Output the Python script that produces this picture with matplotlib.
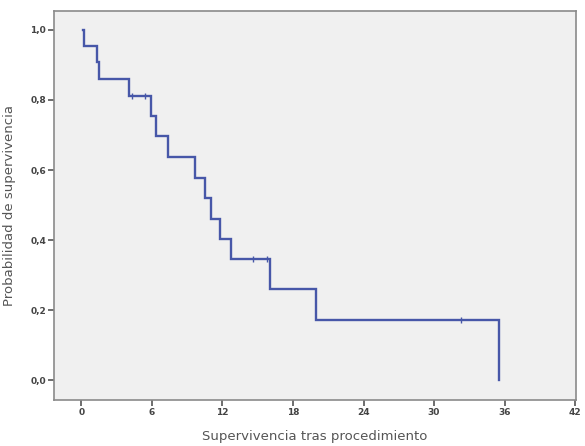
import matplotlib
matplotlib.use("Agg")
import matplotlib.pyplot as plt
from matplotlib.ticker import FuncFormatter

# Kaplan-Meier curve (time in months, survival)
event_times = [0.0, 0.25, 1.35, 1.5, 4.05, 5.93, 6.37, 7.4, 9.7, 10.55, 11.0,
               11.78, 12.76, 16.08, 20.0, 35.5]
survival = [1.0, 0.955, 0.908, 0.86, 0.81, 0.754, 0.696, 0.638, 0.578, 0.52,
            0.461, 0.403, 0.346, 0.261, 0.172, 0.0]
censor_times = [4.3, 5.4, 14.6, 15.8, 32.3]
censor_surv = [0.81, 0.81, 0.346, 0.346, 0.172]

x_ticks = [0, 6, 12, 18, 24, 30, 36, 42]
y_ticks = [0.0, 0.2, 0.4, 0.6, 0.8, 1.0]

line_color = "#4757a8"
text_color = "#555555"

fig = plt.figure(figsize=(5.85, 4.46), dpi=100)
fig.patch.set_facecolor("white")
# right edge pulled in a little so the "42" label stays inside the image
ax = fig.add_axes([0.093, 0.103, 0.891, 0.873])
ax.set_facecolor("#f0f0f0")

# start slightly after zero, like the reference
ax.step([0.1] + event_times[1:], survival, where="post",
        color=line_color, linewidth=1.7, solid_joinstyle="miter")
ax.plot(censor_times, censor_surv, linestyle="none", marker="|",
        markersize=5, markeredgewidth=1.0, color=line_color)

ax.set_xlim(-2.3, 42.05)
ax.set_ylim(-0.057, 1.055)
ax.set_xticks(x_ticks)
ax.set_yticks(y_ticks)
ax.yaxis.set_major_formatter(FuncFormatter(lambda v, p: f"{v:.1f}".replace(".", ",")))

for side in ["top", "right", "left", "bottom"]:
    ax.spines[side].set_color("#8a8a8a")
    ax.spines[side].set_linewidth(1.2)

ax.tick_params(direction="out", length=4, width=1.2, color="#555555",
               labelsize=6.5, labelcolor="#444444", pad=2)
for lbl in ax.get_xticklabels() + ax.get_yticklabels():
    lbl.set_fontweight("bold")

ax.set_xlabel("Supervivencia tras procedimiento", fontsize=9.5,
              color=text_color, labelpad=9)
ax.set_ylabel("Probabilidad de supervivencia", fontsize=9.5,
              color=text_color, labelpad=10)

fig.savefig("out.png", dpi=100)
